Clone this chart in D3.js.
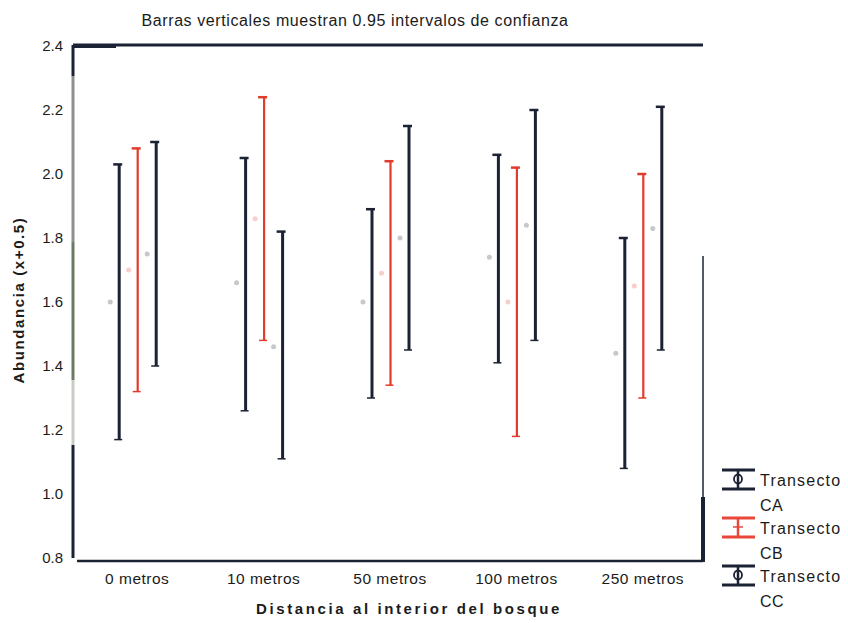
<!DOCTYPE html>
<html>
<head>
<meta charset="utf-8">
<script src="https://cdn.jsdelivr.net/npm/d3@7/dist/d3.min.js"></script>
<style>
  body { margin: 0; background: #ffffff; }
  svg { display: block; font-family: "Liberation Sans", Arial, sans-serif; }
</style>
</head>
<body>
<svg id="chart" width="848" height="623"></svg>
<script>
// ---- data ----
const categories = ["0 metros", "10 metros", "50 metros", "100 metros", "250 metros"];
const seriesNames = ["CA", "CB", "CC"];
const meanCA = [1.60, 1.66, 1.60, 1.74, 1.44];
const lowCA  = [1.17, 1.26, 1.30, 1.41, 1.08];
const highCA = [2.03, 2.05, 1.89, 2.06, 1.80];
const meanCB = [1.70, 1.86, 1.69, 1.60, 1.65];
const lowCB  = [1.32, 1.48, 1.34, 1.18, 1.30];
const highCB = [2.08, 2.24, 2.04, 2.02, 2.00];
const meanCC = [1.75, 1.46, 1.80, 1.84, 1.83];
const lowCC  = [1.40, 1.11, 1.45, 1.48, 1.45];
const highCC = [2.10, 1.82, 2.15, 2.20, 2.21];
const yTicks = [0.8, 1.0, 1.2, 1.4, 1.6, 1.8, 2.0, 2.2, 2.4];
const title = "Barras verticales muestran 0.95 intervalos de confianza";
const xTitle = "Distancia al interior del bosque";
const yTitle = "Abundancia (x+0.5)";

(function () {
const seriesData = [
  { name: "CA", mean: meanCA, low: lowCA, high: highCA },
  { name: "CB", mean: meanCB, low: lowCB, high: highCB },
  { name: "CC", mean: meanCC, low: lowCC, high: highCC }
];
const colors = { CA: "#1b2233", CB: "#e23b2c", CC: "#1b2233" };
const widths = { CA: 3, CB: 2.2, CC: 3 };

const svg = d3.select("#chart");
const pl = 74, pr = 706, pt = 46, pb = 558;

const x = d3.scaleBand().domain(categories).range([pl, pr]);
const xs = d3.scalePoint().domain(seriesNames).range([-18, 19]);
const y = d3.scaleLinear().domain([0.8, 2.4]).range([pb, pt]);

// title
svg.append("text").attr("x", 355).attr("y", 26).attr("text-anchor", "middle")
  .attr("font-size", 16).attr("letter-spacing", 0.6).attr("fill", "#1b1b1b").text(title);

// frame
const frame = svg.append("g").attr("stroke", "#1b2233").attr("fill", "none");
frame.append("line").attr("x1", pl - 1).attr("x2", pr - 3).attr("y1", 45).attr("y2", 45).attr("stroke-width", 3);
frame.append("line").attr("x1", pl - 1).attr("x2", 116).attr("y1", 46).attr("y2", 46).attr("stroke-width", 4);
frame.append("line").attr("x1", pl + 3).attr("x2", pr - 3).attr("y1", 561).attr("y2", 561).attr("stroke-width", 2.5);
frame.append("line").attr("x1", pr - 3).attr("x2", pr - 3).attr("y1", 256).attr("y2", 498).attr("stroke-width", 1.5);
frame.append("line").attr("x1", pr - 3).attr("x2", pr - 3).attr("y1", 497).attr("y2", 562).attr("stroke-width", 4);
// left axis (scanned segments)
const leftSegs = [[45, 76, "#1b2233"], [76, 242, "#8f918c"], [242, 380, "#6b7a62"], [380, 445, "#c9ccc4"], [445, 558, "#1b2233"]];
frame.selectAll("line.lseg").data(leftSegs).join("line").attr("class", "lseg")
  .attr("x1", pl - 1).attr("x2", pl - 1)
  .attr("y1", d => d[0]).attr("y2", d => d[1])
  .attr("stroke", d => d[2]).attr("stroke-width", 3);

// y axis ticks
const yAxis = d3.axisLeft(y).tickValues(yTicks).tickFormat(d3.format(".1f")).tickSize(0).tickPadding(11);
const gy = svg.append("g").attr("transform", `translate(${pl},0)`).call(yAxis);
gy.select(".domain").remove();
gy.selectAll("text").attr("font-size", 15).attr("fill", "#1b1b1b").attr("font-family", "Liberation Sans, Arial, sans-serif");

// x axis labels
const xAxis = d3.axisBottom(x).tickSize(0).tickPadding(12);
const gx = svg.append("g").attr("transform", `translate(0,${pb + 3})`).call(xAxis);
gx.select(".domain").remove();
gx.selectAll("text").attr("font-size", 15.5).attr("letter-spacing", 0.5).attr("fill", "#1b1b1b").attr("font-family", "Liberation Sans, Arial, sans-serif");

// axis titles
svg.append("text").attr("x", 409).attr("y", 614).attr("text-anchor", "middle")
  .attr("font-size", 15).attr("letter-spacing", 2.6).attr("font-weight", "bold").attr("fill", "#1b1b1b").text(xTitle);
svg.append("text").attr("transform", "translate(24,300) rotate(-90)").attr("text-anchor", "middle")
  .attr("font-size", 15).attr("letter-spacing", 1.6).attr("font-weight", "bold").attr("fill", "#1b1b1b").text(yTitle);

// error bars
const bars = svg.append("g");
seriesData.forEach(s => {
  const g = bars.append("g").attr("stroke", colors[s.name]).attr("fill", colors[s.name]);
  categories.forEach((c, i) => {
    const cx = x(c) + x.bandwidth() / 2 + xs(s.name);
    g.append("line").attr("x1", cx).attr("x2", cx)
      .attr("y1", y(s.low[i])).attr("y2", y(s.high[i])).attr("stroke-width", widths[s.name]);
    g.append("line").attr("x1", cx - 6).attr("x2", cx + 3)
      .attr("y1", y(s.high[i])).attr("y2", y(s.high[i])).attr("stroke-width", 2.5);
    g.append("line").attr("x1", cx - 5).attr("x2", cx + 3)
      .attr("y1", y(s.low[i])).attr("y2", y(s.low[i])).attr("stroke-width", 1.5);
    g.append("circle").attr("cx", cx - 9).attr("cy", y(s.mean[i])).attr("r", 2.5)
      .attr("stroke", "none").attr("opacity", 0.25);
  });
});

// legend
const legend = svg.append("g");
seriesData.forEach((s, i) => {
  const ly = 480 + i * 48;
  const col = s.name === "CB" ? "#e8473a" : "#1b2233";
  const lg = legend.append("g").attr("stroke", col).attr("fill", "none");
  lg.append("line").attr("x1", 722).attr("x2", 755).attr("y1", ly - 10).attr("y2", ly - 10).attr("stroke-width", 2.8);
  lg.append("line").attr("x1", 722).attr("x2", 755).attr("y1", ly + 9).attr("y2", ly + 9).attr("stroke-width", 2.8);
  lg.append("line").attr("x1", 738).attr("x2", 738).attr("y1", ly - 10).attr("y2", ly + 9).attr("stroke-width", 2.5);
  if (s.name !== "CB") {
    lg.append("ellipse").attr("cx", 738).attr("cy", ly - 1).attr("rx", 4).attr("ry", 4.5).attr("stroke-width", 1.8);
  } else {
    lg.append("line").attr("x1", 733).attr("x2", 743).attr("y1", ly - 1).attr("y2", ly - 1).attr("stroke-width", 1.5);
  }
  legend.append("text").attr("x", 760).attr("y", ly + 6).attr("font-size", 16).attr("letter-spacing", 1.2).attr("fill", "#1b1b1b").text("Transecto");
  legend.append("text").attr("x", 760).attr("y", ly + 31).attr("font-size", 16).attr("letter-spacing", 0.5).attr("fill", "#1b1b1b").text(s.name);
});
})();
</script>
</body>
</html>
